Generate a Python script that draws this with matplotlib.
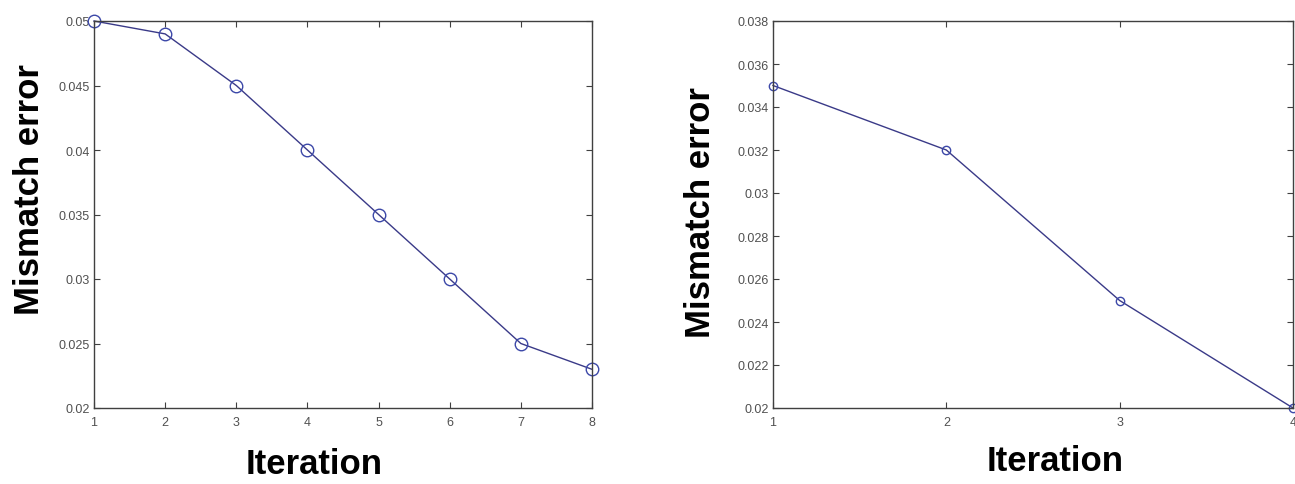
import matplotlib
matplotlib.use("Agg")
import matplotlib.pyplot as plt

# left panel: 8 iterations
iter_left = [1, 2, 3, 4, 5, 6, 7, 8]
err_left = [0.050, 0.049, 0.045, 0.040, 0.035, 0.030, 0.025, 0.023]
yticks_left = [0.02, 0.025, 0.03, 0.035, 0.04, 0.045, 0.05]
yticklabels_left = ["0.02", "0.025", "0.03", "0.035", "0.04", "0.045", "0.05"]

# right panel: 4 iterations
iter_right = [1, 2, 3, 4]
err_right = [0.035, 0.032, 0.025, 0.020]
yticks_right = [0.02, 0.022, 0.024, 0.026, 0.028, 0.03, 0.032, 0.034, 0.036, 0.038]
yticklabels_right = ["0.02", "0.022", "0.024", "0.026", "0.028", "0.03",
                     "0.032", "0.034", "0.036", "0.038"]

plt.rcParams["font.family"] = ["Liberation Sans", "DejaVu Sans"]

line_color = "#3a3a88"
marker_color = "#3c48a8"
axis_color = "#404040"

fig = plt.figure(figsize=(12.95, 4.85), dpi=100)
W, H = 1295, 485


def make_axes(left, right, top, bottom):
    return fig.add_axes([left / W, 1 - bottom / H, (right - left) / W, (bottom - top) / H])


def style(ax):
    for sp in ax.spines.values():
        sp.set_color(axis_color)
        sp.set_linewidth(1.0)
    ax.tick_params(direction="in", length=4, width=0.8, colors=axis_color,
                   labelsize=9, top=True, right=True, pad=3)
    ax.tick_params(axis="x", pad=6)
    for lab in ax.get_xticklabels() + ax.get_yticklabels():
        lab.set_color("#505050")


ax1 = make_axes(94, 592, 22, 409)
ax1.plot(iter_left, err_left, color=line_color, lw=1.0, marker="o", ms=9,
         mfc="none", mec=marker_color, mew=1.0, clip_on=False)
ax1.set_xlim(1, 8)
ax1.set_ylim(0.02, 0.05)
ax1.set_xticks(iter_left)
ax1.set_yticks(yticks_left)
ax1.set_yticklabels(yticklabels_left)
style(ax1)

ax2 = make_axes(773, 1293, 22, 409)
ax2.plot(iter_right, err_right, color=line_color, lw=1.0, marker="o", ms=6,
         mfc="none", mec=marker_color, mew=1.0, clip_on=False)
ax2.set_xlim(1, 4)
ax2.set_ylim(0.02, 0.038)
ax2.set_xticks(iter_right)
ax2.set_yticks(yticks_right)
ax2.set_yticklabels(yticklabels_right)
style(ax2)

label_kw = dict(fontsize=25, fontweight="bold", color="black", ha="center", va="center")
fig.text(30 / W, 1 - 190 / H, "Mismatch error", rotation=90, **label_kw)
fig.text(314 / W, 1 - 465 / H, "Iteration", **label_kw)
fig.text(700 / W, 1 - 213 / H, "Mismatch error", rotation=90, **label_kw)
fig.text(1055 / W, 1 - 462 / H, "Iteration", **label_kw)

fig.savefig("out.png", dpi=100)
